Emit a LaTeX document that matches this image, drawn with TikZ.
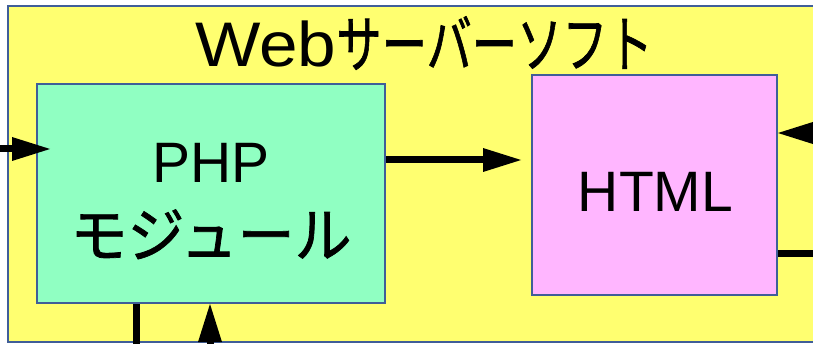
\documentclass[tikz,border=0pt]{standalone}
\usepackage{fontspec}
\setmainfont{Liberation Sans}
\newfontfamily\jp[FakeBold=1.2]{Noto Sans CJK JP}
\usetikzlibrary{arrows.meta}
\definecolor{srvfill}{RGB}{255,255,112}
\definecolor{phpfill}{RGB}{144,255,194}
\definecolor{htmlfill}{RGB}{255,182,255}
\definecolor{edge}{RGB}{64,94,152}
\tikzset{
	box/.style={draw=edge, line width=2pt, inner sep=0pt},
	wire/.style={line width=7pt},
	arr/.style={line width=7pt, -{Triangle[length=38pt,width=24pt,line width=0pt]}},
	big/.style={font=\fontsize{57}{75}\selectfont, inner sep=0pt, align=center},
}

\begin{document}
\begin{tikzpicture}[x=1pt,y=-1pt]
		\useasboundingbox (0,0) rectangle (813,344);
		\clip (0,0) rectangle (813,344);
		\node[box, fill=srvfill, minimum width=822pt, minimum height=336pt] (srv) at (419,174) {};
		\node[anchor=base west, inner sep=0pt] (title) at (195,67)
			{\fontsize{63}{70}\selectfont\scalebox{1.1}[1]{Web}{\jp\fontsize{62}{70}\selectfont\scalebox{0.73}[1]{サーバーソフト}}};
		\node[box, fill=phpfill, minimum width=348pt, minimum height=219pt] (php) at (211,193.5) {};
		\node[big] (phptxt) at (211,201) {PHP\\{\jp\fontsize{60}{75}\selectfont\scalebox{0.95}[1]{モジュール}}};
		\node[box, fill=htmlfill, minimum width=245pt, minimum height=220pt] (html) at (654.5,185) {};
		\node[big] (htmltxt) at (655.5,191.5) {HTML};
		\coordinate (inL) at (-10,149);
		\coordinate (mid) at (450,160);
		\coordinate (inR) at (840,133);
		\coordinate (outR) at (840,254);
		\coordinate (outB) at (136,360);
		\coordinate (inB) at (210,360);
		\draw[arr, shorten >=-14pt] (inL) -- (php.west |- inL);
		\draw[arr, shorten >=10pt] (php.east |- mid) -- (html.west |- mid);
		\draw[arr] (inR) -- (html.east |- inR);
		\draw[wire] (html.east |- outR) -- (outR);
		\draw[wire] (php.south -| outB) -- (outB);
		\draw[arr] (inB) -- (php.south -| inB);
\end{tikzpicture}
\end{document}
